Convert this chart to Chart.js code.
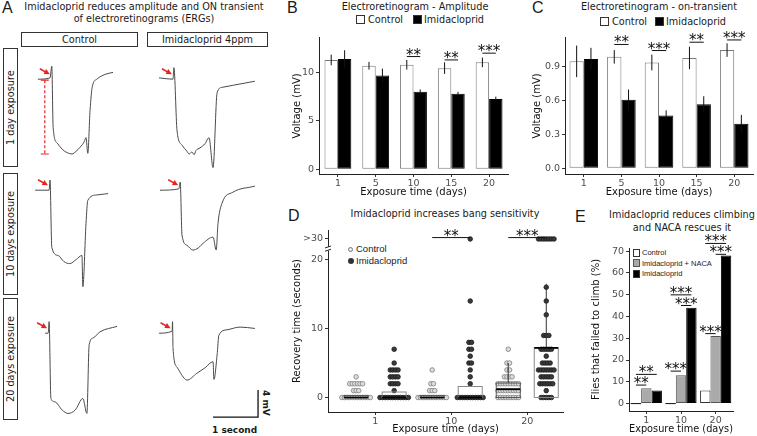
<!DOCTYPE html>
<html>
<head>
<meta charset="utf-8">
<title>Imidacloprid ERG figure</title>
<script src="https://cdn.jsdelivr.net/npm/chart.js@4.4.1/dist/chart.umd.min.js"></script>
<style>
  html, body { margin: 0; padding: 0; background: #fff; }
  body { position: relative; width: 757px; height: 436px; overflow: hidden; font-family: "DejaVu Sans", sans-serif; color: #1a1a1a; }
  canvas { position: absolute; }
  .t { position: absolute; white-space: nowrap; font-size: 9.7px; line-height: 12px; }
  .letter { font-family: "Liberation Sans", Arial, sans-serif; font-size: 16px; line-height: 16px; }
  .hdr { border: 1px solid #333; box-sizing: border-box; text-align: center; line-height: 13px; }
  .side { border: 1px solid #333; box-sizing: border-box; writing-mode: vertical-rl; transform: rotate(180deg); text-align: center; line-height: 13px; }
  .sw { position: absolute; box-sizing: border-box; border: 1px solid #333; }
  .lg { font-family: "Liberation Sans", Arial, sans-serif; }
  .dot { position: absolute; border-radius: 50%; box-sizing: border-box; }
</style>
</head>
<body>
<!-- panel A -->
<div class="t letter" style="left:2px;top:0px">A</div>
<div class="t" style="left:0;top:1px;width:288px;text-align:center;line-height:12.3px">Imidacloprid reduces amplitude and ON transient<br>of electroretinograms (ERGs)</div>
<div class="t hdr" style="left:21px;top:32px;width:117px;height:15px">Control</div>
<div class="t hdr" style="left:147px;top:32px;width:121px;height:15px">Imidacloprid 4ppm</div>
<div class="t side" style="left:3px;top:48px;width:15px;height:119px">1 day exposure</div>
<div class="t side" style="left:3px;top:173px;width:15px;height:122px">10 days exposure</div>
<div class="t side" style="left:3px;top:298px;width:15px;height:122px">20 days exposure</div>
<div class="t" style="left:260px;top:390px;writing-mode:vertical-rl;font-weight:bold;font-size:9px">4 mV</div>
<div class="t" style="left:212px;top:424px;font-weight:bold;font-size:9px">1 second</div>

<!-- panel B -->
<div class="t letter" style="left:287px;top:0px">B</div>
<div class="t" style="left:320px;top:1px;width:190px;text-align:center">Electroretinogram - Amplitude</div>
<span class="sw" style="left:356px;top:15px;width:9px;height:9px;background:#fff"></span>
<div class="t" style="left:368px;top:14px">Control</div>
<span class="sw" style="left:413px;top:15px;width:9px;height:9px;background:#000"></span>
<div class="t" style="left:424px;top:14px">Imidacloprid</div>

<!-- panel C -->
<div class="t letter" style="left:532px;top:0px">C</div>
<div class="t" style="left:560px;top:1px;width:198px;text-align:center">Electroretinogram - on-transient</div>
<span class="sw" style="left:600px;top:17px;width:9px;height:9px;background:#fff"></span>
<div class="t" style="left:612px;top:16px">Control</div>
<span class="sw" style="left:655px;top:17px;width:9px;height:9px;background:#000"></span>
<div class="t" style="left:666px;top:16px">Imidacloprid</div>

<!-- panel D -->
<div class="t letter" style="left:288px;top:208px">D</div>
<div class="t" style="left:330px;top:208px;width:230px;text-align:center">Imidacloprid increases bang sensitivity</div>
<span class="dot" style="left:348px;top:247px;width:5px;height:5px;border:1px solid #777;background:#eee"></span>
<div class="t lg" style="left:356px;top:243px;font-size:9.5px">Control</div>
<span class="dot" style="left:347.5px;top:258px;width:6px;height:6px;background:#333"></span>
<div class="t lg" style="left:356px;top:255px;font-size:9.5px">Imidacloprid</div>

<!-- panel E -->
<div class="t letter" style="left:575px;top:209px">E</div>
<div class="t" style="left:600px;top:208px;width:164px;text-align:center;line-height:13px">Imidacloprid reduces climbing<br>and NACA rescues it</div>
<span class="sw" style="left:633px;top:249px;width:7px;height:8px;background:#fff"></span>
<div class="t lg" style="left:642px;top:248px;font-size:7.5px;line-height:9px">Control</div>
<span class="sw" style="left:633px;top:259px;width:7px;height:8px;background:#aaa;border-color:#555"></span>
<div class="t lg" style="left:642px;top:258.5px;font-size:7.5px;line-height:9px">Imidacloprid + NACA</div>
<span class="sw" style="left:633px;top:270px;width:7px;height:8px;background:#000"></span>
<div class="t lg" style="left:642px;top:269px;font-size:7.5px;line-height:9px">Imidacloprid</div>

<script>
// ---------- A: ERG traces, time (s) from light on, voltage (mV) ----------
const ctrl1T = [-0.27, 0, 0.04, 0.07, 0.16, 0.27, 0.38, 0.49, 0.58, 0.67, 0.76, 0.80, 0.84, 0.89, 0.94, 1.04, 1.22, 1.40];
const ctrl1V = [0, 0.2, 1.9, -7.1, -9.4, -10.3, -10.8, -11.0, -10.6, -10.0, -9.2, -8.6, -10.9, -4.6, -1.1, 0, 0.7, 1.0];
const imid1T = [-0.31, 0, 0.02, 0.09, 0.2, 0.31, 0.36, 0.42, 0.47, 0.51, 0.6, 0.71, 0.8, 0.89, 0.98, 1.09, 1.33, 1.82];
const imid1V = [0.2, 0, 1.7, -7.6, -9.7, -10.6, -11.0, -10.7, -11.1, -10.5, -10.1, -9.5, -8.6, -13.0, -2.0, -1.2, -0.9, -0.3];
const ctrl2T = [-0.33, -0.02, 0, 0.04, 0.18, 0.31, 0.44, 0.58, 0.71, 0.73, 0.8, 0.84, 1.04, 1.29];
const ctrl2V = [0, 0, 1.5, -8.4, -9.6, -10.5, -10.8, -10.2, -9.6, -14.2, -4.9, -1.5, -0.7, -0.5];
const imid2T = [-0.29, 0.13, 0.16, 0.2, 0.31, 0.44, 0.56, 0.67, 0.89, 0.96, 1.0, 1.09, 1.33, 1.82];
const imid2V = [0, 0.2, 1.2, -6.6, -8.1, -8.8, -8.5, -7.8, -6.9, -8.8, -4.9, -1.9, -0.3, 0.6];
const ctrl3T = [-0.11, -0.04, -0.02, 0.02, 0.11, 0.27, 0.4, 0.56, 0.73, 0.82, 0.87, 0.96, 1.11, 1.49];
const ctrl3V = [0, 0, 1.7, -9.6, -10.1, -11.3, -11.8, -11.3, -9.6, -11.8, -1.7, -0.7, 0.2, 1.0];
const imid3T = [-0.31, -0.02, -0.01, 0, 0.09, 0.2, 0.31, 0.53, 0.71, 0.89, 0.91, 0.98, 1.02, 1.2, 1.49, 1.82];
const imid3V = [0, 0.3, 1.7, -2.2, -5.0, -6.2, -6.9, -5.9, -5.1, -4.2, -6.8, -3.2, -0.3, 0.5, 0.9, 0.7];

// ---------- B: ERG amplitude (mV), mean and SE ----------
const ergDays = ['1', '5', '10', '15', '20'];
const ampCtrl = [11.3, 10.7, 10.8, 10.45, 11.05];
const ampCtrlSe = [0.55, 0.4, 0.5, 0.6, 0.5];
const ampImid = [11.4, 9.7, 8.0, 7.8, 7.25];
const ampImidSe = [0.9, 0.7, 0.25, 0.2, 0.25];
const ampTicks = [0, 5, 10];
const ampSigGroup = [2, 3, 4];
const ampSigY = [11.65, 11.3, 12.0];
const ampSigLabel = ['**', '**', '***'];

// ---------- C: ERG on-transient (mV) ----------
const onCtrl = [0.95, 0.99, 0.94, 0.98, 1.05];
const onCtrlSe = [0.14, 0.06, 0.07, 0.1, 0.06];
const onImid = [0.97, 0.61, 0.47, 0.57, 0.395];
const onImidSe = [0.1, 0.09, 0.045, 0.07, 0.08];
const onTicks = [0, 0.3, 0.6, 0.9];
const onTickLabels = ['0.0', '0.3', '0.6', '0.9'];
const onSigGroup = [1, 2, 3, 4];
const onSigY = [1.10, 1.046, 1.12, 1.14];
const onSigLabel = ['**', '***', '**', '***'];

// ---------- D: bang sensitivity, number of flies per recovery time ----------
const bangDays = ['1', '10', '20'];
const recoveryLevels = [0, 1, 2, 3, 4, 5, 6, 7, 8, 9, 12, 14, 16, 30]; // 30 = ">30"
const ctrlDay1 = [12, 3, 6, 1, 0, 0, 0, 0, 0, 0, 0, 0, 0, 0];
const imidDay1 = [12, 1, 4, 4, 4, 1, 0, 1, 0, 0, 0, 0, 0, 0];
const ctrlDay10 = [12, 3, 2, 0, 1, 0, 0, 0, 0, 0, 0, 0, 0, 0];
const imidDay10 = [11, 0, 1, 1, 1, 2, 1, 2, 2, 0, 0, 1, 0, 1];
const ctrlDay20 = [9, 9, 9, 4, 2, 2, 0, 1, 0, 0, 0, 0, 0, 0];
const imidDay20 = [5, 1, 6, 5, 7, 4, 1, 5, 0, 3, 1, 1, 1, 7];
const ctrlQ1 = [0, 0, 0], ctrlMed = [0, 0, 1.2], ctrlQ3 = [0.3, 0.3, 2.1], ctrlHi = [0.3, 0.3, 5];
const imidQ1 = [0, 0, 0], imidMed = [0, 0, 7.2], imidQ3 = [0.8, 1.6, 7.2], imidHi = [0.8, 1.6, 16.5];
const bangTicks = [0, 10, 20, 23];
const bangTickLabels = ['0', '10', '20', '>30'];
const overflowAt = 23;   // where ">30" sits on the broken axis
const breakAt = 21.6;
const bangSigGroup = [1, 2];
const bangSigY = [23.2, 23.2];
const bangSigLabel = ['**', '***'];

// ---------- E: climbing (% failed) ----------
const climbDays = ['1', '10', '20'];
const climbCtrl = [0, 0, 6];
const climbNaca = [7, 13, 31];
const climbImid = [6, 44, 68];
const climbTicks = [0, 10, 20, 30, 40, 50, 60, 70];
const climbSigGroup = [0, 0, 1, 1, 1, 2, 2, 2];
const climbSigFrom = [0, 0, 0, 0, 1, 0, 0, 1];
const climbSigTo = [1, 2, 1, 2, 2, 1, 2, 2];
const climbSigY = [8.5, 13.4, 14.9, 49.9, 45, 32.1, 73.5, 68.5];
const climbSigLabel = ['**', '**', '***', '***', '***', '***', '***', '***'];

Chart.defaults.font.family = '"DejaVu Sans", sans-serif';
Chart.defaults.color = '#4d4d4d';
const starFont = '15px "DejaVu Sans"';

function addCanvas(left, top, w, h) {
  const c = document.createElement('canvas');
  c.width = w; c.height = h;
  c.style.left = left + 'px'; c.style.top = top + 'px';
  c.style.width = w + 'px'; c.style.height = h + 'px';
  document.body.appendChild(c);
  return c;
}

function drawSig(ctx, x1, x2, py, label) {
  ctx.beginPath(); ctx.moveTo(x1, py); ctx.lineTo(x2, py); ctx.stroke();
  ctx.fillText(label, (x1 + x2) / 2, py + 3);
}

// ---- ERG traces ----
const pxPerSec = 45, pxPerMv = 6.8, traceTopMv = 4;

function ergMarks(cfg) {
  return {
    id: 'ergMarks',
    afterDatasetsDraw(chart) {
      const {ctx} = chart, xs = chart.scales.x, ys = chart.scales.y;
      const pts = chart.data.datasets[0].data;
      let k = 0;
      pts.forEach((p, i) => { if (p.y > pts[k].y) k = i; });
      const sx = xs.getPixelForValue(pts[k].x), by = ys.getPixelForValue(0);
      ctx.save();
      // red arrow at the ON transient
      const tx = sx - 2, ty = by - 5;
      ctx.strokeStyle = ctx.fillStyle = '#e8231f';
      ctx.lineWidth = 1.6;
      ctx.beginPath(); ctx.moveTo(tx - 10, ty - 5.5); ctx.lineTo(tx - 3, ty - 1.6); ctx.stroke();
      ctx.beginPath(); ctx.moveTo(tx, ty); ctx.lineTo(tx - 6.2, ty - 0.3); ctx.lineTo(tx - 3.6, ty - 5.2); ctx.closePath(); ctx.fill();
      if (cfg.amplitude) {
        const minV = Math.min(...pts.map(p => p.y));
        const ax = sx - 7, y0 = by + 1, y1 = ys.getPixelForValue(minV);
        ctx.lineWidth = 1.2;
        ctx.setLineDash([3, 2]);
        ctx.beginPath(); ctx.moveTo(ax, y0); ctx.lineTo(ax, y1); ctx.stroke();
        ctx.setLineDash([]);
        ctx.beginPath(); ctx.moveTo(ax - 4, y0); ctx.lineTo(ax + 4, y0); ctx.moveTo(ax - 4, y1); ctx.lineTo(ax + 4, y1); ctx.stroke();
      }
      if (cfg.scaleBar) {
        const b = cfg.scaleBar;
        const x0 = xs.getPixelForValue(b.t), x1 = xs.getPixelForValue(b.t + b.sec);
        const y0 = ys.getPixelForValue(b.v), y1 = ys.getPixelForValue(b.v + b.mv);
        ctx.strokeStyle = '#111'; ctx.lineWidth = 1.3;
        ctx.beginPath(); ctx.moveTo(x0, y0); ctx.lineTo(x1, y0); ctx.lineTo(x1, y1); ctx.stroke();
      }
      ctx.restore();
    }
  };
}

function trace(left, top, w, h, originX, t, v, cfg) {
  const tMin = (left - originX) / pxPerSec;
  return new Chart(addCanvas(left, top, w, h), {
    type: 'line',
    data: { datasets: [{ data: t.map((x, i) => ({x, y: v[i]})), borderColor: '#4a4a4a', borderWidth: 1, pointRadius: 0, cubicInterpolationMode: 'monotone' }] },
    options: {
      responsive: false, animation: false, events: [],
      layout: { padding: 0 },
      plugins: { legend: { display: false }, tooltip: { enabled: false } },
      scales: {
        x: { type: 'linear', display: false, min: tMin, max: tMin + w / pxPerSec },
        y: { display: false, min: traceTopMv - h / pxPerMv, max: traceTopMv }
      }
    },
    plugins: [ergMarks(cfg)]
  });
}

trace(25, 52, 110, 129, 50, ctrl1T, ctrl1V, {amplitude: true});
trace(148, 52, 115, 129, 173, imid1T, imid1V, {});
trace(25, 163, 110, 129, 50, ctrl2T, ctrl2V, {});
trace(148, 163, 115, 129, 173, imid2T, imid2V, {});
trace(25, 306, 110, 129, 50, ctrl3T, ctrl3V, {});
trace(148, 306, 115, 129, 173, imid3T, imid3V, {scaleBar: {t: 0.89, v: -12.35, sec: 1, mv: 4}});

// ---- shared axis helpers ----
function yScale(min, max, ticks, labels, title, width, titlePad) {
  return {
    min, max,
    afterBuildTicks: s => { s.ticks = ticks.map(value => ({value})); },
    afterFit: s => { s.width = width; },
    ticks: { callback: (v, i) => labels[i], color: '#4d4d4d', font: {size: 9.5}, padding: 2 },
    grid: { drawOnChartArea: false, tickLength: 3, color: '#333' },
    border: { color: '#222' },
    title: { display: true, text: title, color: '#111', font: {size: 10}, padding: {top: titlePad, bottom: 0} }
  };
}
function xCat(height, titlePad) {
  return {
    afterFit: s => { s.height = height; },
    ticks: { color: '#4d4d4d', font: {size: 9.5}, padding: 1 },
    grid: { drawOnChartArea: false, tickLength: 3, color: '#333', offset: false },
    border: { color: '#222' },
    title: { display: true, text: 'Exposure time (days)', color: '#111', font: {size: 10}, padding: {top: 0, bottom: titlePad} }
  };
}
function chartOptions(padding, scales) {
  return {
    responsive: false, animation: false, events: [],
    layout: { padding },
    plugins: { legend: { display: false }, tooltip: { enabled: false } },
    scales
  };
}

// error bars, zero-height bars and significance brackets for the bar panels
function barMarks(cfg) {
  return {
    id: 'barMarks',
    afterDatasetsDraw(chart) {
      const {ctx} = chart, ys = chart.scales.y;
      ctx.save();
      ctx.strokeStyle = '#111'; ctx.fillStyle = '#111'; ctx.lineWidth = 1;
      chart.data.datasets.forEach((ds, di) => {
        chart.getDatasetMeta(di).data.forEach((bar, i) => {
          if (ds.data[i] === 0) {
            ctx.beginPath(); ctx.moveTo(bar.x - bar.width / 2, bar.base); ctx.lineTo(bar.x + bar.width / 2, bar.base); ctx.stroke();
          }
        });
      });
      (cfg.errors || []).forEach((se, di) => {
        const vals = chart.data.datasets[di].data;
        chart.getDatasetMeta(di).data.forEach((bar, i) => {
          ctx.beginPath();
          ctx.moveTo(bar.x, ys.getPixelForValue(vals[i] - se[i]));
          ctx.lineTo(bar.x, ys.getPixelForValue(vals[i] + se[i]));
          ctx.stroke();
        });
      });
      ctx.font = starFont; ctx.textAlign = 'center'; ctx.textBaseline = 'alphabetic';
      cfg.sigGroup.forEach((g, k) => {
        const a = chart.getDatasetMeta(cfg.sigFrom[k]).data[g];
        const b = chart.getDatasetMeta(cfg.sigTo[k]).data[g];
        drawSig(ctx, a.x, b.x, ys.getPixelForValue(cfg.sigY[k]), cfg.sigLabel[k]);
      });
      ctx.restore();
    }
  };
}

function ergBars(left, width, ctrl, imid, ctrlSe, imidSe, pct, yCfg, sig, padRight) {
  const bar = (label, data, fill, edge) => ({ label, data, backgroundColor: fill, borderColor: edge, borderWidth: 1, borderSkipped: false, categoryPercentage: pct, barPercentage: 1 });
  return new Chart(addCanvas(left, 30, width, 170), {
    type: 'bar',
    data: { labels: ergDays, datasets: [bar('Control', ctrl, '#fff', '#7a7a7a'), bar('Imidacloprid', imid, '#000', '#000')] },
    options: chartOptions({top: 7, right: padRight}, { x: xCat(26, 1.3), y: yCfg }),
    plugins: [barMarks({ errors: [ctrlSe, imidSe], sigGroup: sig.group, sigFrom: sig.group.map(() => 0), sigTo: sig.group.map(() => 1), sigY: sig.y, sigLabel: sig.label })]
  });
}

// ---- B ----
ergBars(285, 225, ampCtrl, ampImid, ampCtrlSe, ampImidSe, 0.71,
  yScale(-0.5, 13.6, ampTicks, ampTicks.map(String), 'Voltage (mV)', 34, 6.3),
  {group: ampSigGroup, y: ampSigY, label: ampSigLabel}, 2);

// ---- C ----
ergBars(530, 227, onCtrl, onImid, onCtrlSe, onImidSe, 0.76,
  yScale(-0.05, 1.16, onTicks, onTickLabels, 'Voltage (mV)', 35, 1.3),
  {group: onSigGroup, y: onSigY, label: onSigLabel}, 4);

// ---- D ----
const seriesShift = 0.25, dotStep = 0.034;
function swarm(counts, pos) {
  const pts = [];
  counts.forEach((n, k) => {
    const v = recoveryLevels[k] >= 30 ? overflowAt : recoveryLevels[k];
    for (let i = 0; i < n; i++) pts.push({x: pos + (i - (n - 1) / 2) * dotStep, y: v});
  });
  return pts;
}

const bangMarks = {
  id: 'bangMarks',
  afterDatasetsDraw(chart) {
    const {ctx, chartArea} = chart, xs = chart.scales.x, ys = chart.scales.y;
    const half = 12;
    ctx.save();
    const drawBox = (pos, q1, med, q3, hi, edge) => {
      const cx = xs.getPixelForValue(pos);
      const y1 = ys.getPixelForValue(q1), y3 = ys.getPixelForValue(q3);
      ctx.lineWidth = 1; ctx.strokeStyle = '#333';
      ctx.beginPath(); ctx.moveTo(cx, y3); ctx.lineTo(cx, ys.getPixelForValue(hi)); ctx.stroke();
      ctx.strokeStyle = edge;
      ctx.strokeRect(cx - half, y3, 2 * half, y1 - y3);
      const ym = ys.getPixelForValue(med);
      ctx.strokeStyle = '#000'; ctx.lineWidth = 1.8;
      ctx.beginPath(); ctx.moveTo(cx - half, ym); ctx.lineTo(cx + half, ym); ctx.stroke();
    };
    bangDays.forEach((d, g) => {
      drawBox(g + 1 - seriesShift, ctrlQ1[g], ctrlMed[g], ctrlQ3[g], ctrlHi[g], '#555');
      drawBox(g + 1 + seriesShift, imidQ1[g], imidMed[g], imidQ3[g], imidHi[g], '#8a8a8a');
    });
    ctx.strokeStyle = '#111'; ctx.fillStyle = '#111'; ctx.lineWidth = 1;
    ctx.font = starFont; ctx.textAlign = 'center'; ctx.textBaseline = 'alphabetic';
    bangSigGroup.forEach((g, k) => {
      drawSig(ctx, xs.getPixelForValue(g + 1 - seriesShift), xs.getPixelForValue(g + 1 + seriesShift), ys.getPixelForValue(bangSigY[k]), bangSigLabel[k]);
    });
    // axis break
    const bk = ys.getPixelForValue(breakAt), ax = chartArea.left;
    ctx.fillStyle = '#fff'; ctx.fillRect(ax - 2, bk - 2, 4, 4);
    ctx.strokeStyle = '#222';
    [-1.6, 1.6].forEach(d => { ctx.beginPath(); ctx.moveTo(ax - 3, bk + d + 1); ctx.lineTo(ax + 3, bk + d - 1); ctx.stroke(); });
    ctx.restore();
  }
};

new Chart(addCanvas(282, 222, 288, 214), {
  type: 'scatter',
  data: { datasets: [
    { label: 'Control', data: [].concat(swarm(ctrlDay1, 1 - seriesShift), swarm(ctrlDay10, 2 - seriesShift), swarm(ctrlDay20, 3 - seriesShift)),
      pointRadius: 2.3, backgroundColor: '#dcdcdc', borderColor: '#7f7f7f', borderWidth: 0.8 },
    { label: 'Imidacloprid', data: [].concat(swarm(imidDay1, 1 + seriesShift), swarm(imidDay10, 2 + seriesShift), swarm(imidDay20, 3 + seriesShift)),
      pointRadius: 2.3, backgroundColor: '#3a3a3a', borderColor: '#1a1a1a', borderWidth: 0.8 }
  ] },
  options: chartOptions({top: 8, right: 7}, {
    x: {
      type: 'linear', min: 0.38, max: 3.47,
      afterBuildTicks: s => { s.ticks = bangDays.map((d, i) => ({value: i + 1})); },
      afterFit: s => { s.height = 24; },
      ticks: { callback: (v, i) => bangDays[i], color: '#4d4d4d', font: {size: 9.5}, padding: 1 },
      grid: { drawOnChartArea: false, tickLength: 3, color: '#333' },
      border: { color: '#222' },
      title: { display: true, text: 'Exposure time (days)', color: '#111', font: {size: 10}, padding: {top: 0, bottom: 0.3} }
    },
    y: yScale(-2.1, 24.3, bangTicks, bangTickLabels, 'Recovery time (seconds)', 46, 9.3)
  }),
  plugins: [bangMarks]
});

// ---- E ----
const climbBar = (label, data, fill, edge) => ({ label, data, backgroundColor: fill, borderColor: edge, borderWidth: 1, borderSkipped: false, categoryPercentage: 0.9, barPercentage: 1 });
new Chart(addCanvas(570, 230, 187, 206), {
  type: 'bar',
  data: { labels: climbDays, datasets: [
    climbBar('Control', climbCtrl, '#fff', '#333'),
    climbBar('Imidacloprid + NACA', climbNaca, '#aaa', '#555'),
    climbBar('Imidacloprid', climbImid, '#000', '#000')
  ] },
  options: chartOptions({top: 18, right: 24}, {
    x: xCat(25, 0.3),
    y: yScale(-3.4, 71.4, climbTicks, climbTicks.map(String), 'Flies that failed to climb (%)', 59, 20.3)
  }),
  plugins: [barMarks({ sigGroup: climbSigGroup, sigFrom: climbSigFrom, sigTo: climbSigTo, sigY: climbSigY, sigLabel: climbSigLabel })]
});
</script>
</body>
</html>
